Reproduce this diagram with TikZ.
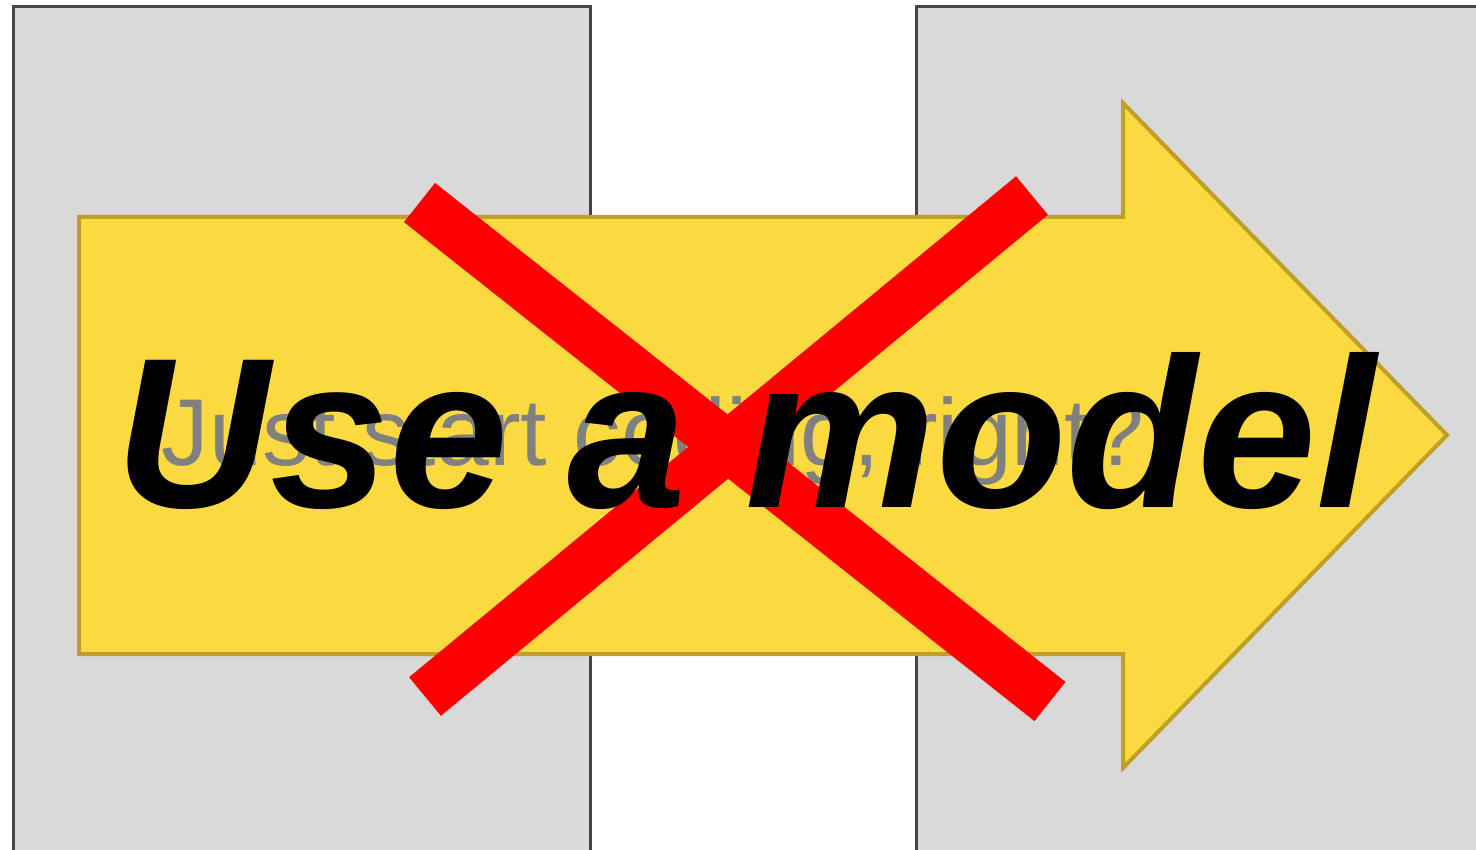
\documentclass[tikz,border=0pt]{standalone}
\usepackage{fontspec}
\setmainfont{Liberation Sans}
\definecolor{panelgray}{HTML}{D9D9D9}
\definecolor{paneledge}{HTML}{454545}
\definecolor{arrowfill}{HTML}{FBDA40}
\definecolor{arrowedge}{HTML}{BF9F27}
\definecolor{crossred}{HTML}{FF0000}
\definecolor{oldtext}{HTML}{808080}
\tikzset{
  panel/.style={fill=panelgray,draw=paneledge,line width=3pt},
  bigarrow/.style={fill=arrowfill,draw=arrowedge,line width=4pt,line join=miter},
  crossbar/.style={draw=crossred,line width=50pt,line cap=butt},
  oldlabel/.style={text=oldtext,font=\fontsize{95}{95}\selectfont,inner sep=0pt,anchor=base},
  newlabel/.style={text=black,font=\fontsize{214}{214}\selectfont\bfseries\itshape,inner sep=0pt,anchor=base},
}
\begin{document}
\begin{tikzpicture}[x=1pt,y=-1pt]
\useasboundingbox (0,0) rectangle (1476,850);
\clip (0,0) rectangle (1476,850);
\fill[white] (0,0) rectangle (1476,850);
% panels
\draw[panel] (13,880) -- (13,7) -- (590,7) -- (590,880);
\draw[panel] (916,880) -- (916,7) -- (1500,7);
\fill[panelgray] (917.5,8.5) rectangle (1500,880);
% arrow
\draw[bigarrow] (79,217) -- (1123,217) -- (1123,103) -- (1447,435) -- (1123,768) -- (1123,654) -- (79,654) -- cycle;
% old text
\node[oldlabel] (old) at (653,465) {Just start coding, right?};
% cross
\coordinate (c1a) at (419.5,202.5);
\coordinate (c1b) at (1050,701.5);
\coordinate (c2a) at (1032,195.5);
\coordinate (c2b) at (425,696.5);
\draw[crossbar] (c1a) -- (c1b);
\draw[crossbar] (c2a) -- (c2b);
% new text
\node[newlabel] (new) at (746,507) {Use a model};
\end{tikzpicture}
\end{document}
